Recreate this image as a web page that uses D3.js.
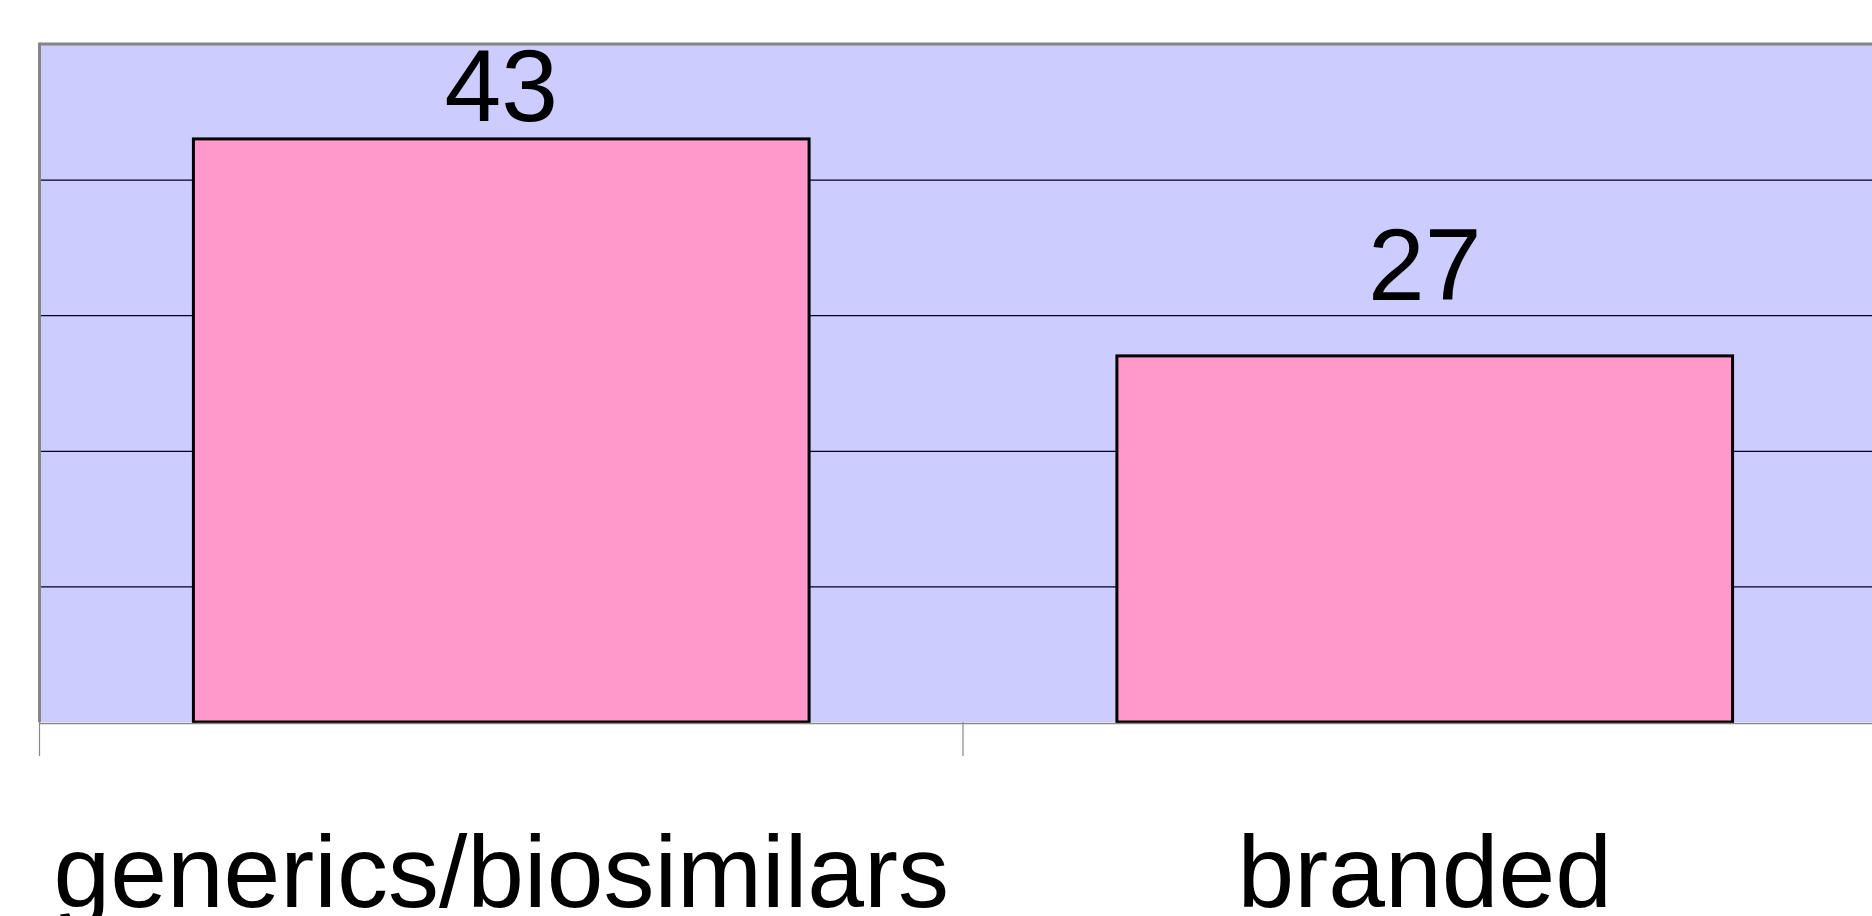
<!DOCTYPE html>
<html>
<head>
<meta charset="utf-8">
<script src="https://cdn.jsdelivr.net/npm/d3@7"></script>
<style>
	body { margin: 0; background: #fff; overflow: hidden; }
	text { font-family: "Liberation Sans", Arial, sans-serif; fill: #000; }
</style>
</head>
<body>
<div class="chart"></div>
<script>
var categories = ["generics/biosimilars", "branded"];
var values = [43, 27];
var gridTicks = [10, 20, 30, 40];
var yMax = 50;

function makeBarChart() {
	var width = 1872;
	var height = 916;
	var left = 39.5, top = 44, bottom = 722;
	var step = 923.5;

	var svg = d3.select(".chart").append("svg")
		.attr("width", width).attr("height", height);

	var xScale = d3.scaleBand()
		.domain(categories)
		.range([left, left + categories.length * step])
		.paddingInner(1/3).paddingOuter(1/6);

	var yScale = d3.scaleLinear()
		.domain([0, yMax]).range([bottom, top]);

	var plotRight = xScale.range()[1];

	// plot background
	svg.append("rect")
		.attr("x", left).attr("y", top)
		.attr("width", plotRight - left).attr("height", bottom - top)
		.attr("fill", "#ccccff");

	// horizontal gridlines
	var yAxis = d3.axisLeft(yScale).tickValues(gridTicks)
		.tickSize(-(plotRight - left)).tickFormat("");
	var grid = svg.append("g").attr("transform", "translate(" + left + ",0)").call(yAxis);
	grid.select(".domain").remove();
	grid.selectAll(".tick line").attr("stroke", "#000022").attr("stroke-width", 1.3);

	// plot frame: top and left in grey
	svg.append("line")
		.attr("x1", left).attr("x2", plotRight)
		.attr("y1", top).attr("y2", top)
		.attr("stroke", "#858585").attr("stroke-width", 3);
	svg.append("line")
		.attr("x1", left).attr("x2", left)
		.attr("y1", top - 1.5).attr("y2", bottom)
		.attr("stroke", "#858585").attr("stroke-width", 3);

	// bars
	svg.selectAll("rect.bar").data(values).enter().append("rect")
		.attr("class", "bar")
		.attr("x", function(d, i) { return xScale(categories[i]); })
		.attr("y", function(d) { return yScale(d); })
		.attr("width", xScale.bandwidth())
		.attr("height", function(d) { return bottom - yScale(d); })
		.attr("fill", "#ff99cc")
		.attr("stroke", "#000").attr("stroke-width", 3);

	// x axis line and category ticks
	svg.append("line")
		.attr("x1", left).attr("x2", plotRight)
		.attr("y1", bottom + 1.5).attr("y2", bottom + 1.5)
		.attr("stroke", "#888").attr("stroke-width", 1.5);
	svg.selectAll("line.xtick").data(d3.range(categories.length + 1)).enter().append("line")
		.attr("class", "xtick")
		.attr("x1", function(i) { return left + i * xScale.step(); })
		.attr("x2", function(i) { return left + i * xScale.step(); })
		.attr("y1", bottom).attr("y2", bottom + 34)
		.attr("stroke", "#888").attr("stroke-width", 1.2);

	// category labels
	svg.selectAll("text.cat").data(categories).enter().append("text")
		.attr("class", "cat")
		.attr("x", function(d) { return xScale(d) + xScale.bandwidth() / 2; })
		.attr("y", 907)
		.attr("text-anchor", "middle")
		.style("font-size", "102px")
		.text(function(d) { return d; });

	// value labels, kept inside the plot area
	svg.selectAll("text.val").data(values).enter().append("text")
		.attr("class", "val")
		.attr("x", function(d, i) { return xScale(categories[i]) + xScale.bandwidth() / 2; })
		.attr("y", function(d) { return Math.max(yScale(d) - 56, top + 77); })
		.attr("text-anchor", "middle")
		.style("font-size", "102px")
		.text(function(d) { return d; });
}

makeBarChart();
</script>
</body>
</html>
